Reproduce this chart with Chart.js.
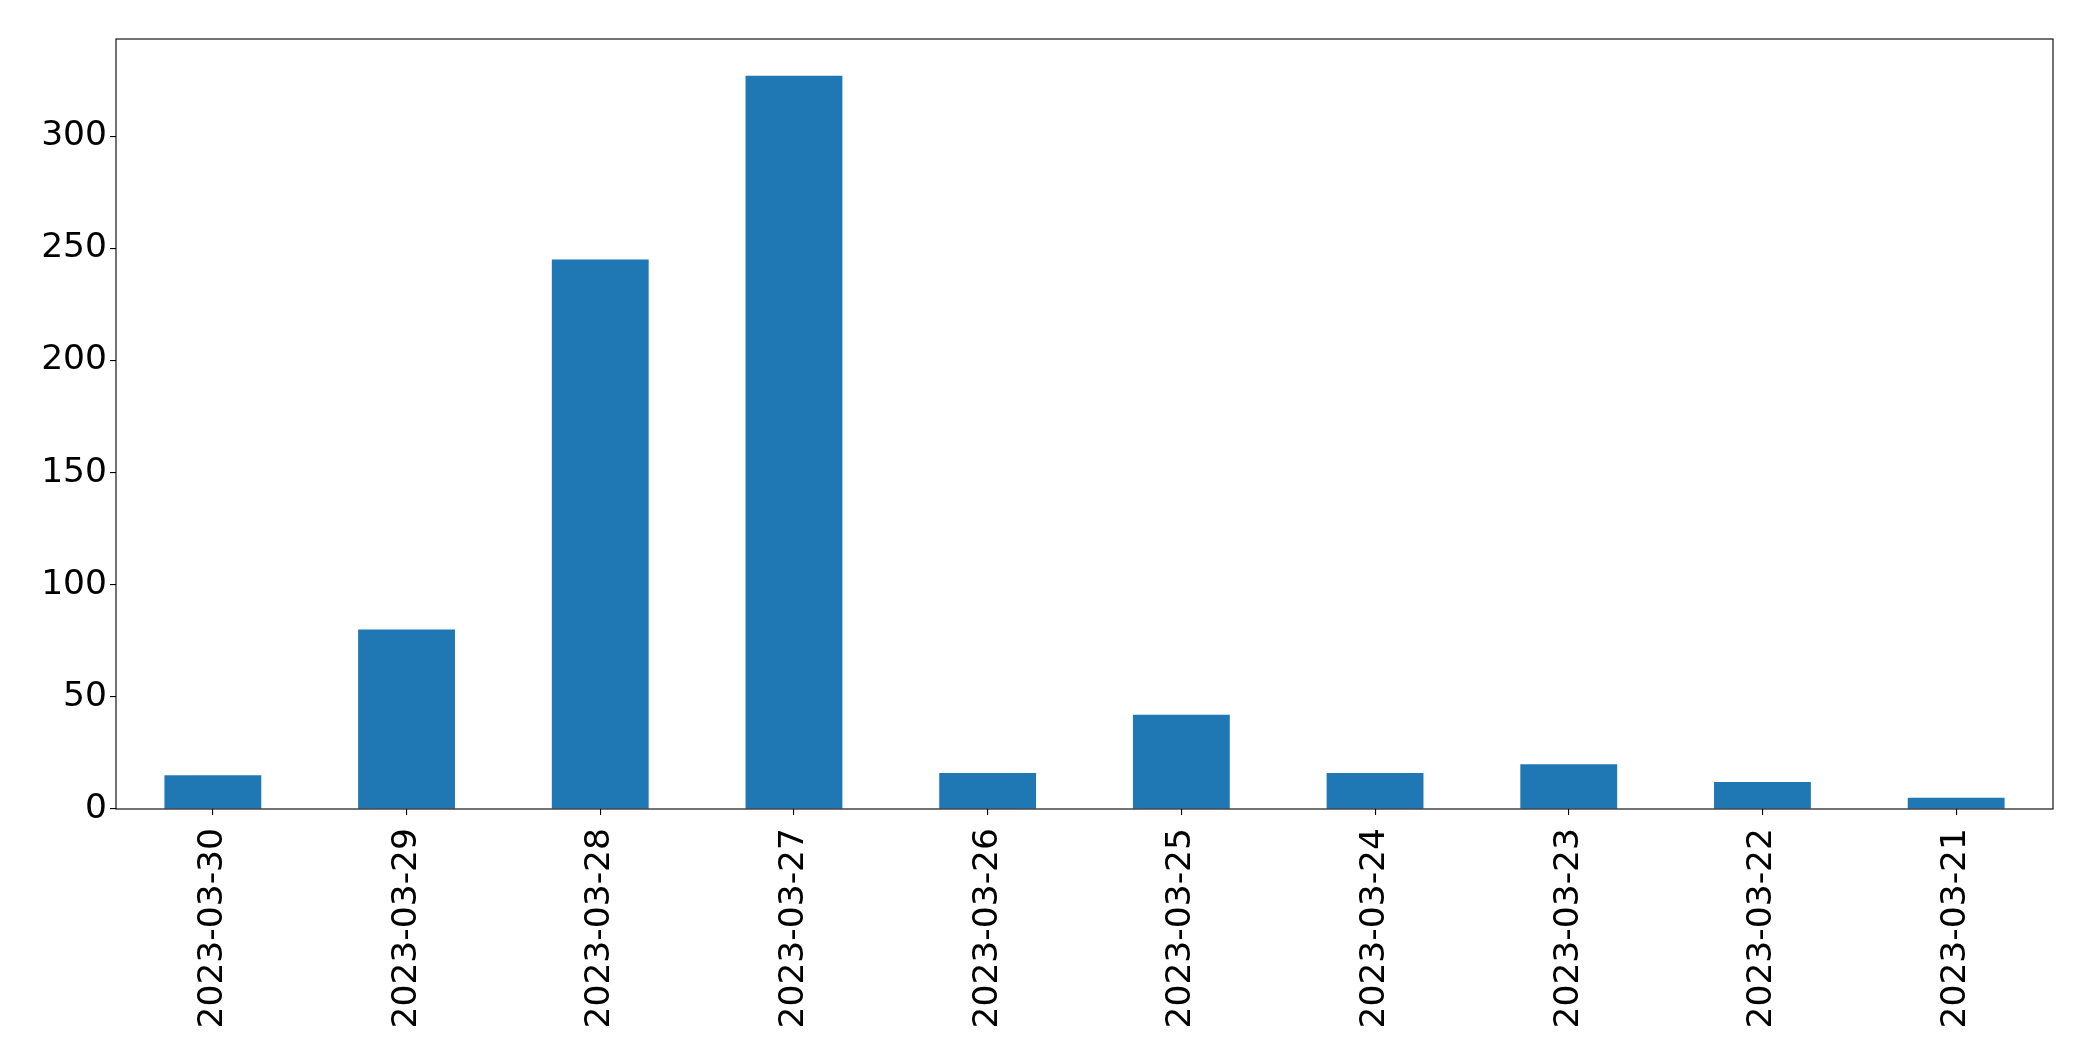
<!DOCTYPE html>
<html>
<head>
<meta charset="utf-8">
<script src="https://cdn.jsdelivr.net/npm/chart.js@4"></script>
<style>
  html, body { margin: 0; padding: 0; background: #fff; }
  #wrap { width: 2093px; height: 1061px; }
</style>
</head>
<body>
<div id="wrap"><canvas id="chart" width="2093" height="1061"></canvas></div>
<script>
const dates = ['2023-03-30', '2023-03-29', '2023-03-28', '2023-03-27', '2023-03-26',
    '2023-03-25', '2023-03-24', '2023-03-23', '2023-03-22', '2023-03-21'];
const counts = [15, 80, 245, 327, 16, 42, 16, 20, 12, 5];
const yTicks = [0, 50, 100, 150, 200, 250, 300];

const frame = {
    id: 'frame',
    afterDraw: function (chart) {
        const a = chart.chartArea;
        const ctx = chart.ctx;
        ctx.save();
        ctx.strokeStyle = '#000';
        ctx.lineWidth = 1.1;
        ctx.strokeRect(a.left, a.top, a.right - a.left, a.bottom - a.top);
        ctx.restore();
    }
};

const font = { family: 'DejaVu Sans', size: 34.5 };

new Chart(document.getElementById('chart'), {
    type: 'bar',
    data: {
        labels: dates,
        datasets: [{
            data: counts,
            backgroundColor: '#1f77b4',
            borderWidth: 0,
            categoryPercentage: 1.0,
            barPercentage: 0.5,
        }],
    },
    options: {
        responsive: false,
        animation: false,
        layout: { padding: { left: 0, top: 39, right: 40, bottom: 0 } },
        plugins: {
            legend: { display: false },
            tooltip: { enabled: false },
        },
        scales: {
            x: {
                grid: { display: true, drawOnChartArea: false, offset: false, color: '#000', tickLength: 6, lineWidth: 1.1 },
                border: { display: false },
                ticks: { color: '#000', font: font, minRotation: 90, maxRotation: 90, autoSkip: false, padding: 13 },
                afterFit: function (s) { s.height = 252; },
            },
            y: {
                min: 0,
                max: 343.35,
                grid: { display: true, drawOnChartArea: false, color: '#000', tickLength: 6, lineWidth: 1.1 },
                border: { display: false },
                ticks: { color: '#000', font: font, stepSize: 50, padding: 3 },
                afterBuildTicks: function (s) {
                    s.ticks = yTicks.map(function (v) { return { value: v }; });
                },
                afterFit: function (s) { s.width = 116; },
            },
        },
    },
    plugins: [frame],
});
</script>
</body>
</html>
